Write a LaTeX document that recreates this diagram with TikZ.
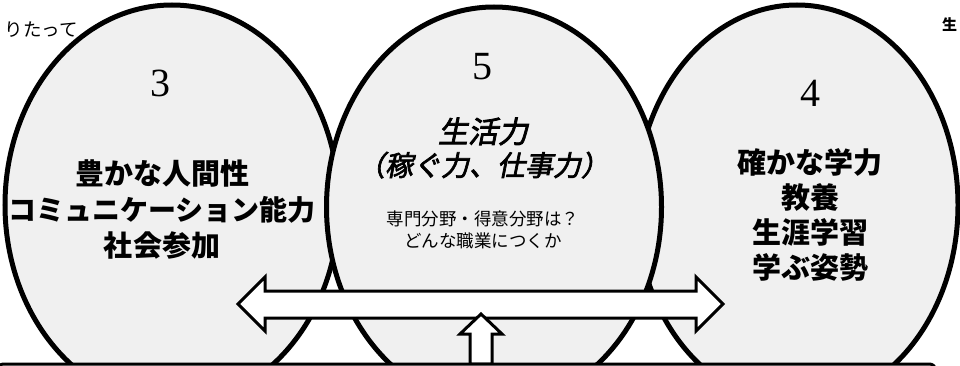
\documentclass[tikz,border=0pt]{standalone}
\usepackage{fontspec}
\setmainfont{Liberation Serif}
\newfontfamily\jp{Noto Sans CJK JP}
\newfontfamily\jpi[FakeSlant=0.2,FakeBold=2.5]{Noto Sans CJK JP}
\usetikzlibrary{shapes.geometric}
\definecolor{ellfill}{HTML}{F0F0F0}
\tikzset{
  ell/.style={ellipse, draw=black, line width=5pt, fill=ellfill, inner sep=0pt,
    minimum width=334pt, minimum height=400pt},
  num/.style={font=\fontsize{40}{40}\selectfont, inner sep=0pt},
  bigtxt/.style={font=\jp\bfseries\fontsize{29}{36}\selectfont, align=center, inner sep=0pt},
  ittxt/.style={font=\jpi\fontsize{28}{33}\selectfont, align=center, inner sep=0pt},
  smalltxt/.style={font=\jp\fontsize{17.5}{22}\selectfont, align=center, inner sep=0pt},
  arrowshape/.style={draw=black, line width=3pt, fill=white, line join=miter},
  boxline/.style={draw=black, line width=3pt, fill=white, rounded corners=6pt}
}
\begin{document}
\begin{tikzpicture}[x=1pt, y=-1pt]
\useasboundingbox (0,0) rectangle (960,366);
% background text fragments
\node[font=\jp\fontsize{18.5}{18.5}\selectfont, anchor=east, inner sep=0pt] (frag1) at (78,30) {りたって};
\node[font=\jp\bfseries\fontsize{15}{15}\selectfont, anchor=west, inner sep=0pt] (frag2) at (942,25) {生};
% ellipses
\node[ell] (e3) at (172,205) {};
\node[ell, minimum width=322pt] (e4) at (797,205) {};
\node[ell, minimum width=335pt] (e5) at (494,207) {};
% numbers
\node[num] (n3) at (160,83) {3};
\node[num] (n5) at (482,67) {5};
\node[num] (n4) at (810,93) {4};
% texts
\node[bigtxt] (t3) at (162,209) {豊かな人間性\\{\fontsize{28}{36}\selectfont コミュニケーション能力}\\社会参加};
\node[bigtxt, font=\jp\bfseries\fontsize{29}{35}\selectfont] (t4) at (810,215) {確かな学力\\教養\\生涯学習\\学ぶ姿勢};
\node[ittxt] (t5) at (483,148) {{\fontsize{30}{33}\selectfont 生活力}\\（稼ぐ力、仕事力）};
\node[smalltxt] (t5s) at (483,230) {専門分野・得意分野は？\\どんな職業につくか};
% double arrow
\draw[arrowshape] (238,304) -- (265,277) -- (265,291) -- (696,291) -- (696,277) -- (723,304)
  -- (696,331) -- (696,318) -- (265,318) -- (265,331) -- cycle;
% up arrow
\draw[arrowshape] (481,314) -- (502,334) -- (492,334) -- (492,364) -- (470,364) -- (470,334) -- (460,334) -- cycle;
% bottom box
\node[boxline, anchor=north west, minimum width=938pt, minimum height=60pt, inner sep=0pt] (box) at (-4,362.5) {};
\end{tikzpicture}
\end{document}
